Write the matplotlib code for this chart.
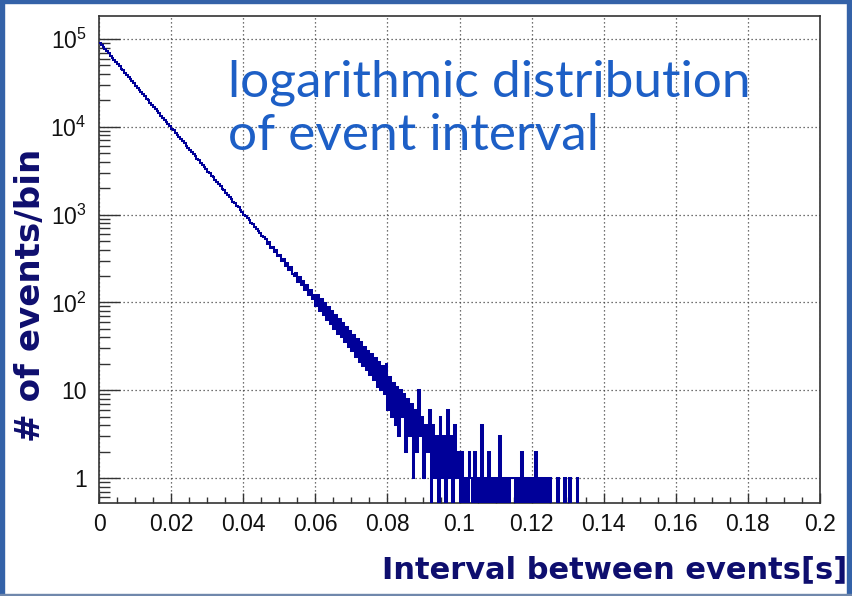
import numpy as np
import matplotlib
matplotlib.use("Agg")
import matplotlib.pyplot as plt
from matplotlib.patches import Rectangle
from matplotlib.ticker import FixedLocator, LogLocator, NullFormatter, FixedFormatter

# ---------------- data (counts per bin, bin width 0.0005 s) ----------------
bin_width = 0.0005
x_start = 0.0

counts_0_004 = [90510, 86020, 80870, 76890, 72310, 68700, 64590, 61420, 57740, 54880,
                51590, 49080, 46110, 43860, 41200, 39210, 36800, 35050, 32890, 31320,
                29390, 28010, 26250, 25030, 23460, 22370, 20970, 20000, 18740, 17870,
                16750, 15970, 14960, 14280, 13370, 12760, 11950, 11410, 10680, 10190,
                9550, 9110, 8530, 8140, 7620, 7280, 6810, 6500, 6090, 5810,
                5440, 5195, 4860, 4645, 4340, 4150, 3880, 3710, 3465, 3318,
                3098, 2965, 2768, 2652, 2474, 2370, 2210, 2118, 1975, 1893,
                1764, 1694, 1576, 1515, 1408, 1355, 1258, 1211, 1123, 1083]
counts_004_006 = [1002, 962, 905, 868, 805, 778, 722, 690, 645, 618,
                  575, 552, 528, 468, 485, 420, 428, 372, 392, 335,
                  345, 296, 312, 262, 281, 234, 252, 212, 202, 214,
                  172, 194, 156, 175, 138, 157, 122, 140, 108, 122]
counts_006_008 = [92, 121, 80, 108, 72, 98, 63, 88, 57, 80,
                  50, 71, 44, 64, 40, 58, 35, 52, 31, 47,
                  28, 42, 24, 38, 21, 35, 19, 31, 17, 28,
                  15, 26, 13, 23, 11, 21, 10, 19, 9, 20]
counts_008_010 = [6, 14, 5, 12, 4, 11, 3, 10, 5, 9,
                  2, 8, 3, 7, 1, 6, 2, 10, 3, 5,
                  1, 4, 2, 6, 0, 4, 1, 3, 0, 5,
                  1, 3, 0, 6, 1, 3, 0, 4, 1, 2]
counts_010_012 = [0, 2, 0, 1, 0, 2, 1, 0, 2, 0,
                  1, 0, 4, 0, 1, 0, 2, 0, 1, 0,
                  1, 0, 3, 0, 1, 0, 1, 0, 1, 1,
                  1, 0, 1, 0, 2, 0, 1, 0, 1, 0]
counts_012_0135 = [1, 0, 2, 0, 1, 0, 1, 0, 1, 0,
                   1, 0, 0, 0, 1, 0, 0, 0, 1, 0,
                   0, 1, 0, 0, 0, 1, 0, 0, 0, 0]

x_ticks = [0, 0.02, 0.04, 0.06, 0.08, 0.1, 0.12, 0.14, 0.16, 0.18, 0.2]
x_tick_labels = ["0", "0.02", "0.04", "0.06", "0.08", "0.1", "0.12", "0.14", "0.16", "0.18", "0.2"]
y_ticks = [1, 10, 100, 1000, 10000, 100000]
y_tick_labels = ["1", "10", r"10$^{2}$", r"10$^{3}$", r"10$^{4}$", r"10$^{5}$"]

annotation_lines = ["logarithmic distribution", "of event interval"]
x_label = "Interval between events[s]"
y_label = "# of events/bin"

# ---------------- build ----------------
counts = np.array(counts_0_004 + counts_004_006 + counts_006_008 + counts_008_010
                  + counts_010_012 + counts_012_0135, dtype=float)
edges = x_start + bin_width * np.arange(len(counts) + 1)
draw_counts = np.where(counts > 0, counts, 1e-3)

plt.rcParams['mathtext.fontset'] = 'custom'
plt.rcParams['mathtext.rm'] = 'Liberation Sans'
plt.rcParams['mathtext.it'] = 'Liberation Sans'
plt.rcParams['mathtext.bf'] = 'Liberation Sans:bold'

W, H = 852, 596
fig = plt.figure(figsize=(W / 100, H / 100), dpi=100)
fig.patch.set_facecolor('white')

# slide border
border = '#3462a8'
fig.add_artist(Rectangle((0, 0), 4 / W, 1, transform=fig.transFigure, color=border, zorder=5))
fig.add_artist(Rectangle((0, 1 - 3 / H), 1, 3 / H, transform=fig.transFigure, color=border, zorder=5))
fig.add_artist(Rectangle((1 - 5 / W, 0), 5 / W, 1, transform=fig.transFigure, color=border, zorder=5))
fig.add_artist(Rectangle((0, 0), 1, 2 / H, transform=fig.transFigure, color='#7088ac', zorder=5))

L, R, T, B = 99, 820, 16, 503
ax = fig.add_axes([L / W, 1 - B / H, (R - L) / W, (B - T) / H])
ax.set_yscale('log')
ax.set_xlim(0, 0.2)
ax.set_ylim(0.519, 1.83e5)

ax.stairs(draw_counts, edges, baseline=None, color='#000099', lw=1.45, zorder=3)

# grid
ax.set_xticks(x_ticks)
ax.set_xticklabels(x_tick_labels)
ax.xaxis.set_minor_locator(FixedLocator(np.arange(0, 0.2001, 0.005)))
ax.yaxis.set_major_locator(FixedLocator(y_ticks))
ax.yaxis.set_major_formatter(FixedFormatter(y_tick_labels))
ax.yaxis.set_minor_locator(LogLocator(base=10, subs=np.arange(2, 10), numticks=20))
ax.yaxis.set_minor_formatter(NullFormatter())
ax.grid(True, which='major', color='#444444', lw=0.9, linestyle=(0, (1, 2.2)))

ax.tick_params(axis='x', which='major', direction='in', length=7.5, width=1.0, color='#333333',
               labelsize=16.5, pad=7, top=False)
ax.tick_params(axis='x', which='minor', direction='in', length=4.5, width=1.0, color='#333333', top=False)
ax.tick_params(axis='y', which='major', direction='in', length=15, width=1.0, color='#333333',
               labelsize=16.5, pad=9, right=False)
ax.tick_params(axis='y', which='minor', direction='in', length=8, width=1.0, color='#333333', right=False)
for lab in ax.get_xticklabels() + ax.get_yticklabels():
    lab.set_fontfamily('Liberation Sans')
    lab.set_color('#111111')
for sp in ax.spines.values():
    sp.set_color('#333333')
    sp.set_linewidth(1.2)

# annotation
blue = '#1d5fc6'
t1 = fig.text(228 / W, 1 - 97 / H, annotation_lines[0], color=blue, fontsize=30, fontfamily='Lato',
              va='baseline', ha='left')
t2 = fig.text(228 / W, 1 - 150 / H, annotation_lines[1], color=blue, fontsize=30, fontfamily='Lato',
              va='baseline', ha='left')

# axis labels
navy = '#0e0e6e'
xl = fig.text(847 / W, 1 - 578 / H, x_label, color=navy, fontsize=22, fontweight='bold',
              fontfamily='DejaVu Sans', ha='right', va='baseline')
yl = fig.text(31 / W, 1 - 295 / H, y_label, color=navy, fontsize=22, fontweight='bold',
              fontfamily='DejaVu Sans', ha='center', va='center', rotation=90)

# fit text sizes to the reference extents
fig.canvas.draw()
rend = fig.canvas.get_renderer()
w1 = t1.get_window_extent(rend).width
s = t1.get_fontsize() * 522 / w1
t1.set_fontsize(s)
t2.set_fontsize(s)
hy = yl.get_window_extent(rend).height
yl.set_fontsize(yl.get_fontsize() * 292 / hy)
wx = xl.get_window_extent(rend).width
xl.set_fontsize(xl.get_fontsize() * 464 / wx)

fig.savefig('out.png', dpi=100)
